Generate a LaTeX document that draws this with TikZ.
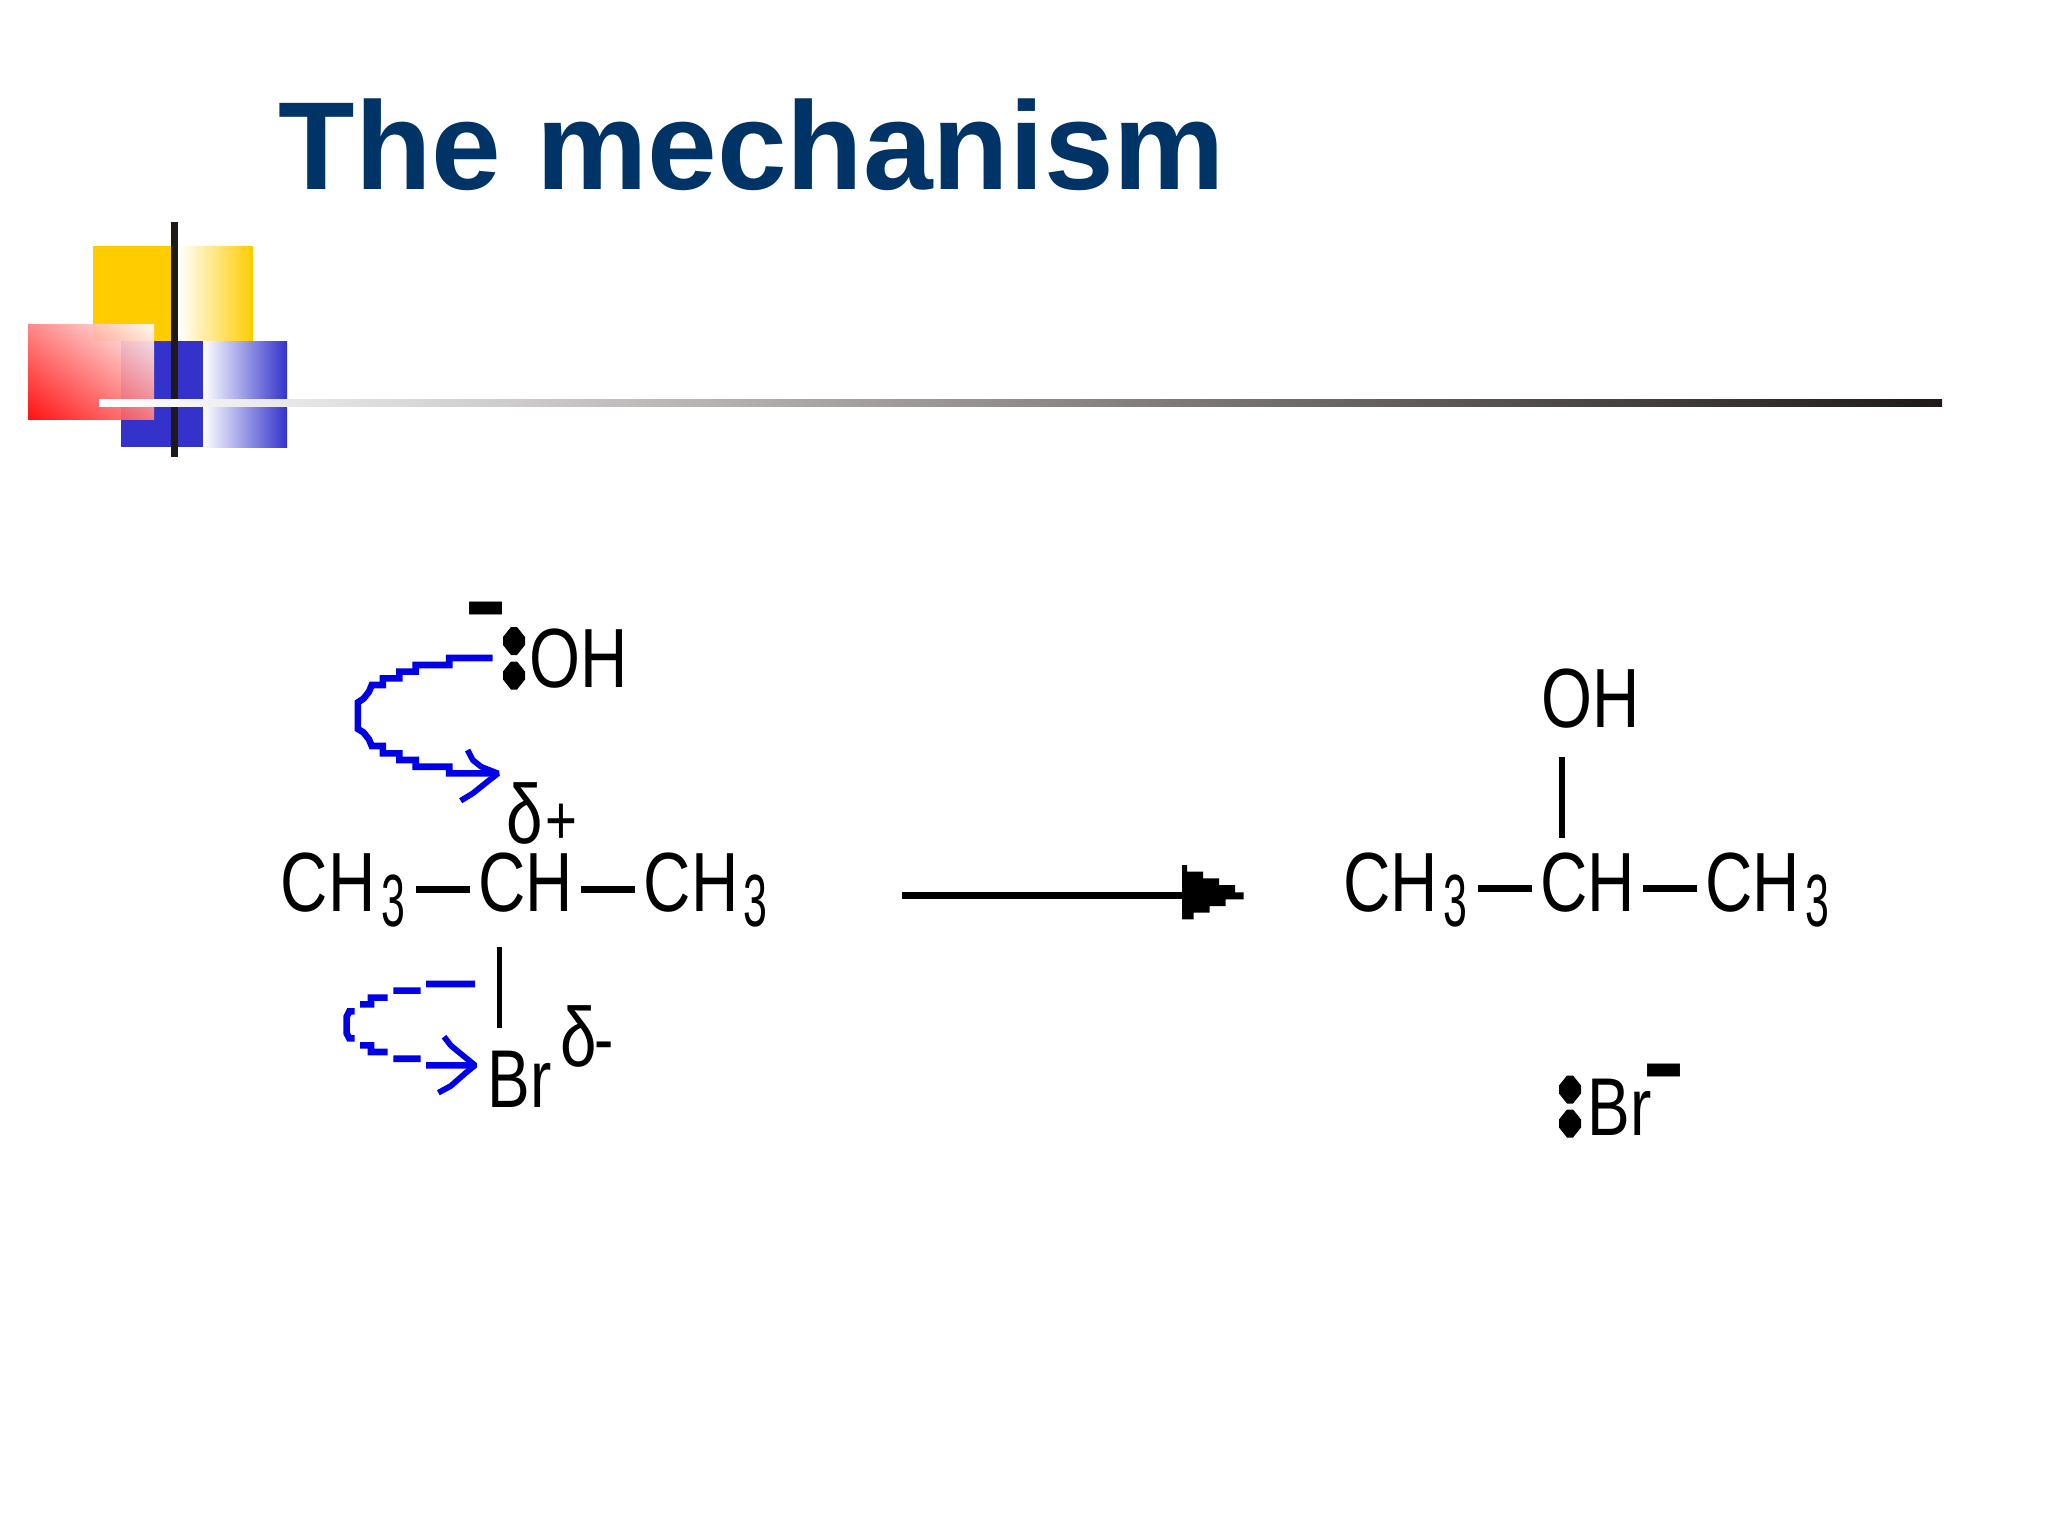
\documentclass[tikz,border=0pt]{standalone}
\usepackage{fontspec}
\usetikzlibrary{shadings}
\setmainfont{Liberation Sans}
\newfontfamily\chemfont[FakeStretch=0.78]{Liberation Sans}
\newfontfamily\subfont[FakeStretch=0.58]{Liberation Sans}
\newfontfamily\chargefont[FakeStretch=1.2]{Liberation Sans Bold}
\definecolor{titleblue}{HTML}{003366}
\definecolor{decoyellow}{HTML}{FFCC00}
\definecolor{decoblue}{HTML}{3333CC}
\definecolor{decodark}{HTML}{1F1A17}
\definecolor{arrowblue}{HTML}{0000E6}
\newcommand\lonepair[2]{\fill[shift={(#1,#2)}] (-3,-14) -- (3,-14) -- (11,-4) -- (11,4) -- (3,14) -- (-3,14) -- (-11,4) -- (-11,-4) -- cycle;}
\tikzset{
  chem/.style={font=\chemfont\fontsize{42}{42}\selectfont, anchor=base west, inner sep=0pt, text=black},
  sub/.style={font=\subfont\fontsize{37}{37}\selectfont, anchor=base west, inner sep=0pt, text=black},
  charge/.style={font=\chargefont\fontsize{54}{54}\selectfont, anchor=base west, inner sep=0pt, text=black},
  bond/.style={draw=black, line width=3.5pt, line cap=butt},
  vbond/.style={draw=black, line width=2.6pt, line cap=butt},
  curly/.style={draw=arrowblue, line width=3.3pt, line cap=butt, line join=miter},
  barb/.style={draw=arrowblue, line width=2.9pt, line cap=butt, line join=bevel}
}
\begin{document}
\begin{tikzpicture}[x=0.5pt,y=-0.5pt]
\useasboundingbox (0,0) rectangle (2048,1536);
% decoration
\fill[decoyellow] (93,246) rectangle (178,341);
\shade[left color=white,right color=decoyellow] (178,246) rectangle (253,341);
\fill[decoblue] (121,341) rectangle (203,447);
\shade[left color=white,right color=decoblue] (203,341) rectangle (287,447);
\shade[shading=bilinear interpolation,lower left=red,upper left=red!50!white,lower right=red!50!white,upper right=white,opacity=0.93] (28,324) rectangle (154,419);
\fill[decodark] (171,222) rectangle (178,457);
\shade[left color=white,right color=decodark] (99,399) rectangle (1942,406);
% title
\node[font=\bfseries\fontsize{62.6}{62.6}\selectfont,text=titleblue,anchor=base west,inner sep=0pt] (title) at (278.5,189.5) {The mechanism};
% left molecule
\node[chem] (lch1) at (280.5,911) {CH};
\node[sub] (l31) at (381,926) {3};
\node[chem] (lch2) at (478,911) {CH};
\node[chem] (lch3) at (643.5,911) {CH};
\node[sub] (l33) at (743,926) {3};
\coordinate (lb1a) at (416,889.5); \coordinate (lb1b) at (470,889.5);
\coordinate (lb2a) at (581,889.5); \coordinate (lb2b) at (635,889.5);
\draw[bond] (lb1a) -- (lb1b);
\draw[bond] (lb2a) -- (lb2b);
\node[chem] (loh) at (529,687) {OH};
\node[charge] (lminus) at (464,636) {-};
\lonepair{514}{641}
\lonepair{514}{675.5}
\node[chem] (ldelta) at (506,843) {δ};
\node[chem,font=\chemfont\fontsize{35}{35}\selectfont] (lplus) at (545,844) {+};
\coordinate (lv1) at (499.5,947); \coordinate (lv2) at (499.5,1028);
\draw[vbond] (lv1) -- (lv2);
\node[chem,font=\chemfont\fontsize{41}{41}\selectfont] (lbr) at (487,1107) {Br};
\node[chem] (ldelta2) at (560,1066) {δ};
\node[chem,font=\chemfont\fontsize{37}{37}\selectfont] (lminus2) at (594,1064) {-};
% curly arrow 1
\begin{scope}[shift={(260,580)},x=0.173pt,y=-0.1667pt]
\coordinate (c1s) at (672,234);
\coordinate (c1t) at (688,580);
\draw[curly] (c1s) -- (547,234) -- (547,255) -- (450,255) -- (450,275) -- (403,275) -- (403,295) -- (355,295) -- (355,315) -- (323,315) -- (315,335) -- (299,356) -- (283,367) -- (283,447) -- (299,457) -- (315,478) -- (323,498) -- (355,498) -- (355,520) -- (403,520) -- (403,540) -- (450,540) -- (450,560) -- (547,560) -- (547,580) -- (c1t);
\draw[barb] (600,510) -- (615,540) -- (639,560) -- (c1t) -- (663,600) -- (639,620) -- (615,640) -- (580,662);
\end{scope}
% curly arrow 2
\begin{scope}[shift={(300,920)},x=0.1667pt,y=-0.1667pt]
\coordinate (c2s) at (525,192);
\coordinate (c2t) at (525,436);
\draw[curly] (c2s) -- (378,192) (362,212) -- (280,212) (263,233) -- (213,233) -- (213,253) -- (180,253) (164,274) -- (148,274) -- (140,290) -- (140,340) -- (148,355) -- (164,355) (180,376) -- (213,376) -- (213,396) -- (263,396) (280,416) -- (362,416) (378,436) -- (c2t);
\draw[barb] (432,350) -- (452,376) -- (476,396) -- (c2t) -- (500,456) -- (476,477) -- (452,498) -- (415,518);
\end{scope}
% main arrow
\coordinate (ma1) at (902,895.5); \coordinate (ma2) at (1186,895.5);
\draw[line width=3.5pt,line cap=butt] (ma1) -- (ma2);
\begin{scope}[shift={(880,650)},x=0.32pt,y=-0.1667pt]
\fill (472,645) -- (480,645) -- (480,665) -- (505,665) -- (505,685) -- (530,685) -- (530,705) -- (555,705) -- (555,727) -- (568,727) -- (568,748) -- (540,748) -- (540,768) -- (515,768) -- (515,788) -- (490,788) -- (490,808) -- (472,808) -- cycle;
\end{scope}
% right molecule
\node[chem] (rch1) at (1343,911) {CH};
\node[sub] (r31) at (1443,926) {3};
\node[chem] (rch2) at (1540,911) {CH};
\node[chem] (rch3) at (1705,911) {CH};
\node[sub] (r33) at (1805,926) {3};
\coordinate (rb1a) at (1478,888.5); \coordinate (rb1b) at (1532,888.5);
\coordinate (rb2a) at (1643,888.5); \coordinate (rb2b) at (1697,888.5);
\draw[bond] (rb1a) -- (rb1b);
\draw[bond] (rb2a) -- (rb2b);
\node[chem] (roh) at (1541,727) {OH};
\coordinate (rv1) at (1562,757); \coordinate (rv2) at (1562,838);
\draw[vbond] (rv1) -- (rv2);
\node[chem,font=\chemfont\fontsize{41}{41}\selectfont] (rbr) at (1587,1135) {Br};
\lonepair{1570}{1089.5}
\lonepair{1570}{1123.5}
\node[charge] (rminus) at (1642,1098) {-};
\end{tikzpicture}
\end{document}
